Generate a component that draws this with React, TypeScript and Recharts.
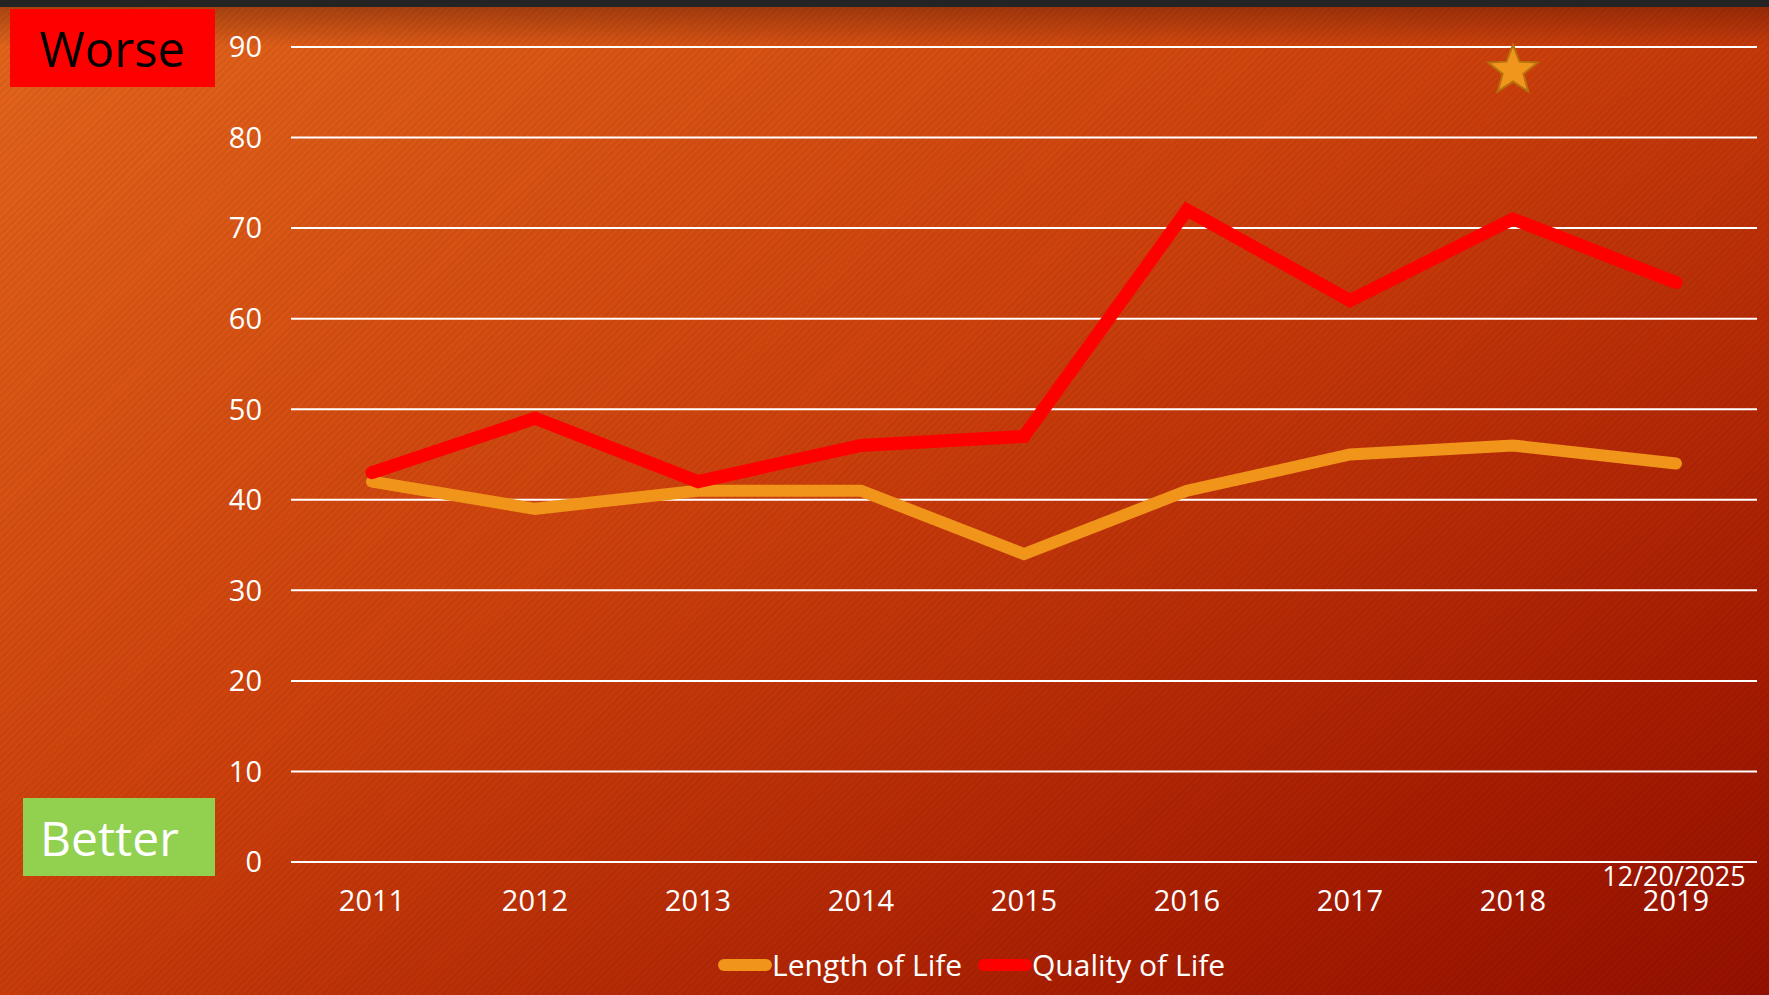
import React from "react";
import {
  LineChart,
  Line,
  XAxis,
  YAxis,
  CartesianGrid,
  ReferenceDot,
} from "recharts";

const years = ["2011", "2012", "2013", "2014", "2015", "2016", "2017", "2018", "2019"];
const lengthOfLife = [42, 39, 41, 41, 34, 41, 45, 46, 44];
const qualityOfLife = [43, 49, 42, 46, 47, 72, 62, 71, 64];
const yTicks = [0, 10, 20, 30, 40, 50, 60, 70, 80, 90];
const starYear = "2018";
const starValue = 87.4;

const seriesInfo = [
  { key: "length", name: "Length of Life", color: "#f0941a" },
  { key: "quality", name: "Quality of Life", color: "#ff0000" },
];

const FONT = "'Open Sans', 'DejaVu Sans', sans-serif";

const data = years.map((y, i) => ({
  year: y,
  length: lengthOfLife[i],
  quality: qualityOfLife[i],
}));

// five point star centred on the reference dot
function Star(props: any) {
  const { cx, cy } = props;
  const outer = 26;
  const inner = 11;
  const pts: string[] = [];
  for (let i = 0; i < 10; i++) {
    const r = i % 2 === 0 ? outer : inner;
    const a = -Math.PI / 2 + (i * Math.PI) / 5;
    pts.push(`${cx + r * Math.cos(a)},${cy + r * Math.sin(a)}`);
  }
  return (
    <polygon
      points={pts.join(" ")}
      fill="#f0961c"
      stroke="#b8700e"
      strokeWidth={2}
    />
  );
}

function ChartLegend() {
  return (
    <div
      style={{
        position: "absolute",
        left: 718,
        top: 945,
        display: "flex",
        alignItems: "center",
        fontFamily: FONT,
      }}
    >
      {seriesInfo.map((s, i) => (
        <div
          key={s.key}
          style={{ display: "flex", alignItems: "center", width: i === 0 ? 260 : "auto" }}
        >
          <span
            style={{
              display: "inline-block",
              width: 54,
              height: 12,
              borderRadius: 6,
              background: s.color,
            }}
          />
          <span style={{ color: "#fff", fontSize: 30, lineHeight: "40px" }}>{s.name}</span>
        </div>
      ))}
    </div>
  );
}

export default function App() {
  return (
    <div
      style={{
        position: "absolute",
        left: 0,
        top: 0,
        width: 1769,
        height: 995,
        overflow: "hidden",
        background:
          "repeating-linear-gradient(135deg, rgba(0,0,0,0.05) 0px, rgba(0,0,0,0.05) 2px, rgba(0,0,0,0) 2px, rgba(0,0,0,0) 5px), linear-gradient(to bottom right, #e3661c 0%, #cc400c 45%, #a81e02 80%, #951000 100%)",
        fontFamily: FONT,
      }}
    >
      {/* dark strip and shading along the top edge */}
      <div style={{ position: "absolute", left: 0, top: 0, width: 1769, height: 7, background: "#242424" }} />
      <div
        style={{
          position: "absolute",
          left: 0,
          top: 7,
          width: 1769,
          height: 40,
          background: "linear-gradient(to bottom, rgba(60,10,0,0.35), rgba(60,10,0,0))",
        }}
      />

      <div
        style={{
          position: "absolute",
          left: 10,
          top: 9,
          width: 205,
          height: 78,
          background: "#ff0000",
          color: "#000",
          fontSize: 49,
          display: "flex",
          alignItems: "center",
          justifyContent: "center",
        }}
      >
        Worse
      </div>
      <div
        style={{
          position: "absolute",
          left: 23,
          top: 798,
          width: 192,
          height: 78,
          background: "#92d050",
          color: "#fff",
          fontSize: 48,
          display: "flex",
          alignItems: "center",
          paddingLeft: 17,
          boxSizing: "border-box",
        }}
      >
        Better
      </div>

      <div
        style={{
          position: "absolute",
          left: 1596,
          top: 862,
          width: 156,
          textAlign: "center",
          color: "#fff",
          fontSize: 27,
          lineHeight: "28px",
        }}
      >
        12/20/2025
      </div>

      <div style={{ position: "absolute", left: 0, top: 0 }}>
        <LineChart
          width={1769}
          height={995}
          data={data}
          margin={{ top: 47, right: 12, left: 231, bottom: 0 }}
        >
          <CartesianGrid vertical={false} stroke="#ffffff" strokeWidth={2} />
          <XAxis
            dataKey="year"
            axisLine={false}
            tickLine={false}
            tickSize={0}
            tickMargin={28}
            height={133}
            interval={0}
            padding={{ left: 81, right: 81 }}
            tick={{ fill: "#ffffff", fontSize: 29, fontFamily: FONT }}
          />
          <YAxis
            width={60}
            domain={[0, 90]}
            ticks={yTicks}
            axisLine={false}
            tickLine={false}
            tickSize={0}
            tickMargin={29}
            tick={{ fill: "#ffffff", fontSize: 29, fontFamily: FONT }}
          />
          <Line
            type="linear"
            dataKey="length"
            name="Length of Life"
            stroke="#f0941a"
            strokeWidth={12}
            strokeLinecap="round"
            dot={false}
            activeDot={false}
            isAnimationActive={false}
          />
          <Line
            type="linear"
            dataKey="quality"
            name="Quality of Life"
            stroke="#ff0000"
            strokeWidth={13}
            strokeLinecap="round"
            dot={false}
            activeDot={false}
            isAnimationActive={false}
          />
          <ReferenceDot x={starYear} y={starValue} r={26} shape={Star} ifOverflow="visible" />
        </LineChart>
      </div>
      <ChartLegend />
    </div>
  );
}
